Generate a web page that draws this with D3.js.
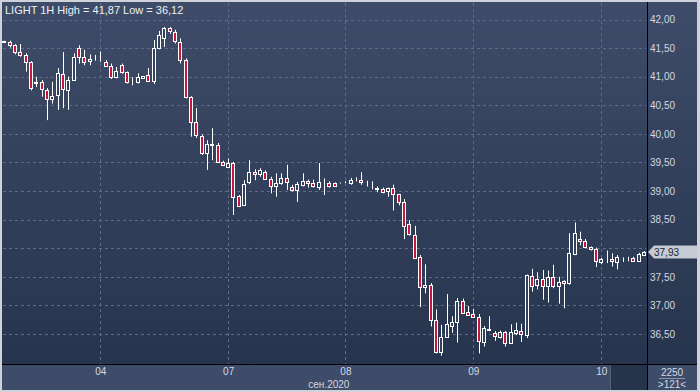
<!DOCTYPE html>
<html><head><meta charset="utf-8">
<script src="https://cdn.jsdelivr.net/npm/d3@7/dist/d3.min.js"></script>
<style>
body{margin:0;background:#cfd2d8;}
svg{display:block;font-family:"Liberation Sans",Arial,sans-serif;}
</style></head>
<body><svg id="c" width="700" height="392"></svg>
<script>
const openP = [41.61,41.61,41.55,41.43,41.38,41.26,40.88,40.90,40.77,40.62,
40.67,41.04,40.76,40.94,41.50,41.34,41.28,41.29,41.29,41.26,
41.19,40.99,41.20,41.08,40.92,40.90,40.97,41.03,40.93,41.51,
41.67,41.85,41.79,41.61,41.30,40.65,40.20,39.97,39.66,39.80,
39.81,39.51,39.42,39.49,38.91,38.76,39.15,39.33,39.29,39.34,
39.21,39.08,39.14,39.22,39.07,39.02,39.11,39.18,39.14,39.07,
39.15,39.14,39.14,39.14,39.14,39.14,39.19,39.19,39.14,39.08,
39.05,39.04,38.99,39.05,38.94,38.80,38.42,38.24,37.84,37.32,
37.36,36.75,36.19,36.44,36.64,36.71,37.08,36.88,36.85,36.79,
36.37,36.58,36.51,36.45,36.53,36.34,36.51,36.56,36.48,37.52,
37.35,37.46,37.34,37.50,37.34,37.42,37.38,37.90,38.17,38.12,
38.02,37.98,37.75,37.81,37.81,37.75,37.82,37.83,37.83,37.77,
37.88];
const highP = [41.63,41.63,41.57,41.57,41.41,41.27,41.00,40.94,40.80,40.91,
41.15,41.43,41.00,41.41,41.55,41.47,41.39,41.38,41.44,41.29,
41.23,41.17,41.23,41.09,40.99,41.06,41.01,41.15,41.64,41.80,
41.87,41.87,41.82,41.67,41.32,40.66,40.45,39.99,39.89,40.10,
39.84,39.53,39.57,39.51,38.93,39.19,39.54,39.38,39.40,39.36,
39.25,39.31,39.31,39.46,39.11,39.16,39.31,39.20,39.20,39.49,
39.22,39.17,39.15,39.15,39.17,39.23,39.24,39.33,39.18,39.17,
39.08,39.06,39.06,39.11,38.95,38.86,38.49,38.39,37.88,37.72,
37.39,36.93,36.66,37.20,36.81,37.13,37.12,36.99,36.94,36.85,
36.64,36.81,36.55,36.56,36.55,36.67,36.70,36.68,37.54,37.64,
37.58,37.62,37.61,37.71,37.50,37.44,38.26,38.45,38.29,38.16,
38.03,38.01,37.83,37.96,37.91,37.88,37.84,37.85,37.85,37.92,
37.95];
const lowP = [41.60,41.51,41.39,41.35,41.09,40.76,40.82,40.65,40.24,40.53,
40.42,40.45,40.42,40.93,41.23,41.20,41.20,41.28,41.26,41.18,
40.96,40.97,41.05,40.88,40.85,40.88,40.96,40.93,40.87,41.48,
41.52,41.75,41.58,41.23,40.62,39.95,39.93,39.63,39.37,39.54,
39.49,39.44,39.40,38.58,38.72,38.76,39.12,39.19,39.25,39.20,
38.96,38.90,39.11,39.02,38.99,38.81,39.08,39.06,39.06,39.02,
38.93,39.06,39.08,39.13,39.14,39.11,39.17,39.11,39.08,39.03,
38.98,38.96,38.90,38.66,38.75,38.16,38.22,37.81,36.97,37.21,
36.63,36.16,36.12,36.44,36.52,36.35,36.85,36.83,36.78,36.16,
36.28,36.55,36.38,36.42,36.28,36.34,36.48,36.36,36.43,37.24,
37.28,37.10,37.05,37.30,37.03,36.95,37.36,37.88,38.05,38.00,
37.96,37.67,37.72,37.74,37.68,37.63,37.76,37.77,37.78,37.76,
37.88];
const closeP = [41.62,41.55,41.43,41.37,41.25,40.81,40.90,40.77,40.62,40.67,
41.06,40.77,40.94,41.34,41.34,41.26,41.31,41.29,41.29,41.19,
40.99,41.10,41.08,40.90,40.92,40.99,41.01,40.93,41.51,41.73,
41.85,41.79,41.63,41.30,40.65,40.21,39.97,39.67,39.82,39.82,
39.51,39.46,39.49,38.90,38.74,39.12,39.33,39.29,39.36,39.22,
39.08,39.14,39.22,39.15,39.02,39.12,39.18,39.14,39.09,39.15,
39.15,39.09,39.09,39.14,39.14,39.19,39.19,39.15,39.14,39.08,
39.04,38.99,39.05,38.94,38.80,38.38,38.24,37.84,37.32,37.36,
36.75,36.19,36.45,36.67,36.71,37.08,36.87,36.83,36.79,36.37,
36.61,36.59,36.45,36.53,36.34,36.53,36.57,36.50,37.53,37.35,
37.46,37.34,37.50,37.34,37.41,37.38,37.91,38.26,38.13,38.02,
37.98,37.77,37.81,37.81,37.77,37.84,37.82,37.83,37.78,37.90,
37.93];
const yTicks = [36.5,37.0,37.5,38.0,38.5,39.0,39.5,40.0,40.5,41.0,41.5,42.0];
const yLabelTicks = [36.5,37.0,37.5,38.5,39.0,39.5,40.0,40.5,41.0,41.5,42.0];
const dayLabels = ["04","07","08","09","10"];
const dayIndex = [18,42,64,88,112];
const monthLabel = "сен.2020";
const titleText = "LIGHT 1H High = 41,87 Low = 36,12";
const barsInfo = ["2250", ">121<"];

const svg = d3.select("#c");
const fmt = v => d3.format(".2f")(v).replace(".", ",");
const x = d3.scaleLinear().domain([0, 120]).range([4.3, 643.9]);
const y = d3.scaleLinear().domain([36.5, 42]).range([334, 19.5]);

const defs = svg.append("defs");
const g = defs.append("linearGradient").attr("id","bg").attr("x1",0).attr("y1",0).attr("x2",0).attr("y2",1);
g.append("stop").attr("offset","0%").attr("stop-color","#3e4c69");
g.append("stop").attr("offset","100%").attr("stop-color","#27344d");
defs.append("clipPath").attr("id","plotclip").append("rect").attr("x",2).attr("y",2).attr("width",645).attr("height",362);

svg.append("rect").attr("x",2).attr("y",2).attr("width",695).attr("height",362).attr("fill","url(#bg)");
svg.append("rect").attr("x",2).attr("y",365).attr("width",695).attr("height",25).attr("fill","#3e4c69");
svg.append("rect").attr("x",611).attr("y",365).attr("width",36).attr("height",25).attr("fill","#27334b");
svg.append("line").attr("x1",610.5).attr("x2",610.5).attr("y1",365).attr("y2",390).attr("stroke","#56637c");

// grid
const grid = svg.append("g").attr("stroke","#5d6c88").attr("stroke-dasharray","3,3").attr("stroke-width",1);
grid.selectAll("line.h").data(yTicks).join("line")
  .attr("x1",3).attr("x2",646).attr("y1",d=>Math.round(y(d))+0.5).attr("y2",d=>Math.round(y(d))+0.5);
grid.selectAll("line.v").data(dayIndex).join("line")
  .attr("y1",3).attr("y2",364).attr("x1",d=>Math.round(x(d))+0.5).attr("x2",d=>Math.round(x(d))+0.5);

// candles
const data = openP.map((o,i)=>({i,o,h:highP[i],l:lowP[i],c:closeP[i]}));
const cg = svg.append("g").attr("clip-path","url(#plotclip)");
const bw = 3;
cg.selectAll("line.w").data(data).join("line")
  .attr("x1",d=>Math.round(x(d.i))+0.5).attr("x2",d=>Math.round(x(d.i))+0.5)
  .attr("y1",d=>y(d.h)).attr("y2",d=>y(d.l))
  .attr("stroke","#ffffff").attr("stroke-width",1);
cg.selectAll("rect.b").data(data).join("rect")
  .attr("x",d=>Math.round(x(d.i))-1.5).attr("width",bw)
  .attr("y",d=>Math.round(Math.min(y(d.o),y(d.c)))+0.5)
  .attr("height",d=>Math.max(0, Math.round(Math.abs(y(d.o)-y(d.c)))))
  .attr("fill",d=>d.c<d.o ? "#c8173f" : "#33415c")
  .attr("stroke","#ffffff").attr("stroke-width",1);

// axis lines
svg.append("line").attr("x1",2).attr("x2",697).attr("y1",364.5).attr("y2",364.5).attr("stroke","#000");
svg.append("line").attr("x1",647.5).attr("x2",647.5).attr("y1",2).attr("y2",390).attr("stroke","#000");

// right axis
const ya = svg.append("g").attr("transform","translate(647,0)")
  .call(d3.axisRight(y).tickValues(yLabelTicks).tickSize(0).tickPadding(3).tickFormat(fmt));
ya.select(".domain").remove();
ya.selectAll("text").attr("fill","#d3d8e1").attr("font-size",10).attr("font-family","Liberation Sans, Arial, sans-serif");

// x labels
const xa = svg.append("g").attr("transform","translate(0,364)")
  .call(d3.axisBottom(x).tickValues(dayIndex).tickSize(0).tickPadding(4).tickFormat((d,i)=>dayLabels[i]));
xa.select(".domain").remove();
xa.selectAll("text").attr("fill","#d3d8e1").attr("font-size",10).attr("font-family","Liberation Sans, Arial, sans-serif");
svg.append("text").attr("x",x(dayIndex[2])+4).attr("y",388).attr("text-anchor","end")
  .attr("fill","#d3d8e1").attr("font-size",10).text(monthLabel);

// title
svg.append("text").attr("x",5).attr("y",14).attr("fill","#eef0f4").attr("font-size",11).text(titleText);

// price label
const last = closeP[closeP.length-1];
const py = Math.round(y(last));
svg.append("path").attr("d",`M648,${py} L654,${py-6.5} L697,${py-6.5} L697,${py+6.5} L654,${py+6.5} Z`)
  .attr("fill","#c6cad2");
svg.append("text").attr("x",654).attr("y",py+4).attr("fill","#1d2434").attr("font-size",10).text(fmt(last));

// bottom-right info
svg.append("text").attr("x",672).attr("y",376).attr("text-anchor","middle").attr("fill","#d3d8e1").attr("font-size",10).text(barsInfo[0]);
svg.append("line").attr("x1",659).attr("x2",685).attr("y1",378.5).attr("y2",378.5).attr("stroke","#8c96aa");
svg.append("text").attr("x",672).attr("y",388).attr("text-anchor","middle").attr("fill","#d3d8e1").attr("font-size",10).text(barsInfo[1]);
</script></body></html>
